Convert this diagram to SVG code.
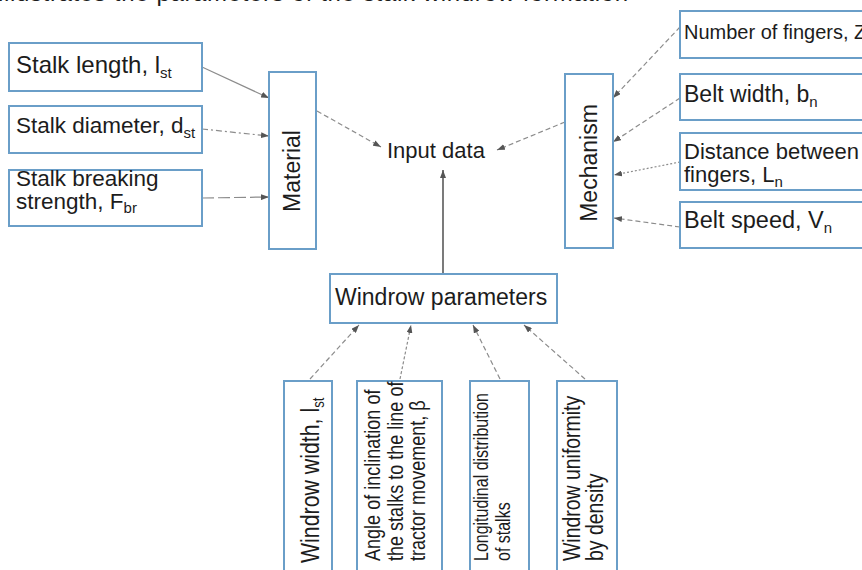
<svg xmlns="http://www.w3.org/2000/svg" width="862" height="570" viewBox="0 0 862 570">
<style>
text{font-family:"Liberation Sans",Arial,sans-serif;fill:#1c1c1c}
.box{fill:#fff;stroke:#6a9ec8;stroke-width:2}
.c{fill:none;stroke:#8c8c8c;stroke-width:1.2;stroke-dasharray:5 3}
.s{fill:none;stroke:#333;stroke-width:1.3}
</style>
<defs>
<marker id="ah" viewBox="0 0 8 6" refX="8" refY="3" markerWidth="8" markerHeight="6" markerUnits="userSpaceOnUse" orient="auto">
<path d="M0,0 L8,3 L0,6 z" fill="#555"/>
</marker>
</defs>
<rect width="862" height="570" fill="#fff"/>
<text x="-2" y="1" font-size="24" textLength="630" lengthAdjust="spacing">illustrates the parameters of the stalk windrow formation</text>

<g id="connectors">
<line class="c" x1="202" y1="67" x2="269" y2="98" marker-end="url(#ah)" style="stroke-dasharray:none"/>
<line class="c" x1="202" y1="129" x2="269" y2="136" marker-end="url(#ah)" style="stroke-dasharray:6 3 2 3"/>
<line class="c" x1="202" y1="198" x2="269" y2="197" marker-end="url(#ah)" style="stroke-dasharray:12 4"/>
<line class="c" x1="317" y1="111" x2="381" y2="147" marker-end="url(#ah)"/>
<line class="c" x1="565" y1="122" x2="497" y2="150" marker-end="url(#ah)"/>
<line class="c" x1="680" y1="27" x2="613" y2="98" marker-end="url(#ah)"/>
<line class="c" x1="680" y1="98" x2="613" y2="142" marker-end="url(#ah)"/>
<line class="c" x1="680" y1="162" x2="614" y2="175" marker-end="url(#ah)" style="stroke-dasharray:2 2"/>
<line class="c" x1="680" y1="227" x2="614" y2="218" marker-end="url(#ah)"/>
<line class="s" x1="443" y1="274" x2="443" y2="170" marker-end="url(#ah)"/>
<line class="c" x1="310" y1="379" x2="359" y2="325" marker-end="url(#ah)"/>
<line class="c" x1="400" y1="379" x2="411" y2="325" marker-end="url(#ah)" style="stroke-dasharray:3 2"/>
<line class="c" x1="500" y1="379" x2="473" y2="325" marker-end="url(#ah)"/>
<line class="c" x1="585" y1="379" x2="524" y2="325" marker-end="url(#ah)"/>
</g>

<g id="stalk-length">
<rect class="box" x="9" y="43" width="193" height="48"/>
<text x="16" y="73" font-size="24">Stalk length, l<tspan font-size="15" dy="5">st</tspan></text>
</g>
<g id="stalk-diameter">
<rect class="box" x="9" y="106" width="193" height="47"/>
<text x="16" y="133" font-size="22.5">Stalk diameter, d<tspan font-size="15" dy="5">st</tspan></text>
</g>
<g id="stalk-breaking">
<rect class="box" x="9" y="170" width="193" height="56"/>
<text x="16" y="186" font-size="22.5">Stalk breaking</text>
<text x="16" y="209" font-size="22.5">strength, F<tspan font-size="15" dy="4">br</tspan></text>
</g>
<g id="material">
<rect class="box" x="269" y="72" width="47" height="177"/>
<text transform="translate(300,171) rotate(-90)" text-anchor="middle" font-size="23">Material</text>
</g>
<g id="input-data">
<text x="387" y="158" font-size="22">Input data</text>
</g>
<g id="mechanism">
<rect class="box" x="565" y="74" width="48" height="174"/>
<text transform="translate(597,163) rotate(-90)" text-anchor="middle" font-size="23">Mechanism</text>
</g>
<g id="num-fingers">
<rect class="box" x="680" y="11" width="200" height="47"/>
<text x="684" y="39" font-size="20">Number of fingers, Z</text>
</g>
<g id="belt-width">
<rect class="box" x="680" y="74" width="200" height="46"/>
<text x="684" y="102" font-size="23">Belt width, b<tspan font-size="15" dy="5">n</tspan></text>
</g>
<g id="finger-distance">
<rect class="box" x="680" y="133" width="200" height="57"/>
<text x="684" y="159" font-size="22">Distance between</text>
<text x="684" y="182" font-size="22">fingers, L<tspan font-size="15" dy="5">n</tspan></text>
</g>
<g id="belt-speed">
<rect class="box" x="680" y="202" width="200" height="46"/>
<text x="684" y="228" font-size="23.5">Belt speed, V<tspan font-size="15" dy="5">n</tspan></text>
</g>
<g id="windrow-parameters">
<rect class="box" x="330" y="274" width="227" height="49"/>
<text x="335" y="305" font-size="23">Windrow parameters</text>
</g>
<g id="windrow-width">
<rect class="box" x="284" y="381" width="48" height="210"/>
<text transform="translate(319,563) rotate(-90) scale(0.82,1)" font-size="26">Windrow width, l<tspan font-size="16" dy="5">st</tspan></text>
</g>
<g id="angle-inclination">
<rect class="box" x="357" y="381" width="85" height="210"/>
<text transform="translate(380,561) rotate(-90) scale(0.82,1)" font-size="22">Angle of inclination of</text>
<text transform="translate(403,561) rotate(-90) scale(0.82,1)" font-size="22">the stalks to the line of</text>
<text transform="translate(425,561) rotate(-90) scale(0.82,1)" font-size="22">tractor movement, β</text>
</g>
<g id="longitudinal-distribution">
<rect class="box" x="470" y="381" width="59" height="210"/>
<text transform="translate(488,561) rotate(-90) scale(0.78,1)" font-size="20.5">Longitudinal distribution</text>
<text transform="translate(510,561) rotate(-90) scale(0.78,1)" font-size="20.5">of stalks</text>
</g>
<g id="windrow-uniformity">
<rect class="box" x="557" y="381" width="60" height="210"/>
<text transform="translate(580,561) rotate(-90) scale(0.81,1)" font-size="24">Windrow uniformity</text>
<text transform="translate(603,561) rotate(-90) scale(0.81,1)" font-size="24">by density</text>
</g>
</svg>
